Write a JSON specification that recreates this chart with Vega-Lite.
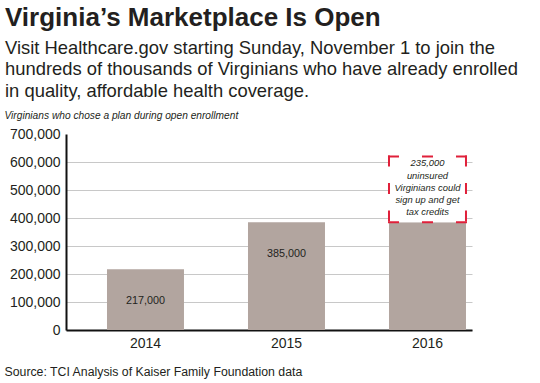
{
  "$schema": "https://vega.github.io/schema/vega-lite/v6.json",
  "width": 406,
  "height": 196,
  "autosize": "none",
  "padding": {"left": 66, "top": 134, "right": 68, "bottom": 53},
  "background": "white",
  "config": {
    "font": "Liberation Sans",
    "view": {"stroke": null},
    "title": {"color": "#231f20", "subtitleColor": "#231f20"}
  },
  "title": {
    "text": "Virginia’s Marketplace Is Open",
    "subtitle": [
      "Visit Healthcare.gov starting Sunday, November 1 to join the",
      "hundreds of thousands of Virginians who have already enrolled",
      "in quality, affordable health coverage."
    ],
    "anchor": "start",
    "frame": "group",
    "dx": -61,
    "fontSize": 26,
    "fontWeight": "bold",
    "subtitleFontSize": 18.4,
    "subtitleLineHeight": 21.5,
    "subtitlePadding": 8,
    "offset": 10
  },
  "datasets": {
    "enrollment": [
      {"year": "2014", "enrolled": 217000, "labelled": true},
      {"year": "2015", "enrolled": 385000, "labelled": true},
      {"year": "2016", "enrolled": 385000, "labelled": false}
    ],
    "potential": [
      {"year": "2016", "low": 385000, "high": 620000, "note": "235,000\nuninsured\nVirginians could\nsign up and get\ntax credits"}
    ]
  },
  "encoding": {
    "x": {
      "field": "year", "type": "nominal",
      "scale": {"paddingInner": 0.454, "paddingOuter": 0.1667, "align": 0.872},
      "axis": {
        "title": "Source: TCI Analysis of Kaiser Family Foundation data",
        "titleX": -62, "titleY": 45, "titleAlign": "left", "titleBaseline": "alphabetic",
        "titleFontSize": 12.3, "titleFontWeight": "normal", "titleColor": "#231f20",
        "labelAngle": 0, "labelFontSize": 14, "labelColor": "#231f20", "labelPadding": 6,
        "ticks": false, "domainColor": "#111", "domainWidth": 2
      }
    },
    "y": {
      "field": "enrolled", "type": "quantitative",
      "scale": {"domain": [0, 700000], "nice": false},
      "axis": {
        "title": "Virginians who chose a plan during open enrollment",
        "titleAngle": 0, "titleX": -62, "titleY": -16, "titleAlign": "left", "titleBaseline": "alphabetic",
        "titleFontSize": 10.2, "titleFontStyle": "italic", "titleFontWeight": "normal", "titleColor": "#231f20",
        "values": [0, 100000, 200000, 300000, 400000, 500000, 600000, 700000],
        "labelExpr": "format(datum.value, ',')",
        "labelFontSize": 14, "labelColor": "#231f20", "labelPadding": 6,
        "ticks": false, "domainColor": "#111", "domainWidth": 2,
        "grid": true,
        "gridColor": {"condition": {"test": "datum.value === 700000", "value": "transparent"}, "value": "#c8c8c8"},
        "gridWidth": 1
      }
    }
  },
  "layer": [
    {
      "data": {"name": "enrollment"},
      "mark": {"type": "bar", "color": "#b2a59f"}
    },
    {
      "data": {"name": "potential"},
      "mark": {"type": "rect", "fill": "white"},
      "encoding": {
        "y": {"field": "low", "type": "quantitative", "title": "Virginians who chose a plan during open enrollment"},
        "y2": {"field": "high"}
      }
    },
    {
      "data": {"name": "potential"},
      "mark": {"type": "rule", "color": "#e0203a", "strokeWidth": 2, "strokeDash": [9, 25], "strokeCap": "square"},
      "encoding": {
        "x": {"field": "year", "type": "nominal", "bandPosition": 0},
        "x2": {"field": "year", "bandPosition": 1},
        "y": {"field": "high", "type": "quantitative", "title": "Virginians who chose a plan during open enrollment"}
      }
    },
    {
      "data": {"name": "potential"},
      "mark": {"type": "rule", "color": "#e0203a", "strokeWidth": 2, "strokeDash": [9, 25], "strokeCap": "square"},
      "encoding": {
        "x": {"field": "year", "type": "nominal", "bandPosition": 0},
        "x2": {"field": "year", "bandPosition": 1},
        "y": {"field": "low", "type": "quantitative", "title": "Virginians who chose a plan during open enrollment"}
      }
    },
    {
      "data": {"name": "potential"},
      "mark": {"type": "rule", "color": "#e0203a", "strokeWidth": 2, "strokeDash": [9, 18.5], "strokeCap": "square"},
      "encoding": {
        "x": {"field": "year", "type": "nominal", "bandPosition": 0},
        "y": {"field": "high", "type": "quantitative", "title": "Virginians who chose a plan during open enrollment"},
        "y2": {"field": "low"}
      }
    },
    {
      "data": {"name": "potential"},
      "mark": {"type": "rule", "color": "#e0203a", "strokeWidth": 2, "strokeDash": [9, 18.5], "strokeCap": "square"},
      "encoding": {
        "x": {"field": "year", "type": "nominal", "bandPosition": 1},
        "y": {"field": "high", "type": "quantitative", "title": "Virginians who chose a plan during open enrollment"},
        "y2": {"field": "low"}
      }
    },
    {
      "data": {"name": "potential"},
      "mark": {"type": "text", "lineBreak": "\n", "baseline": "top", "align": "center", "dy": 3, "fontSize": 9.4, "lineHeight": 12.25, "fontStyle": "italic", "color": "#231f20"},
      "encoding": {
        "y": {"field": "high", "type": "quantitative", "title": "Virginians who chose a plan during open enrollment"},
        "text": {"field": "note", "type": "nominal"}
      }
    },
    {
      "data": {"name": "enrollment"},
      "transform": [{"filter": "datum.labelled"}],
      "mark": {"type": "text", "baseline": "middle", "align": "center", "dy": 32, "fontSize": 10.8, "color": "#231f20"},
      "encoding": {
        "text": {"field": "enrolled", "type": "quantitative", "format": ","}
      }
    }
  ]
}
